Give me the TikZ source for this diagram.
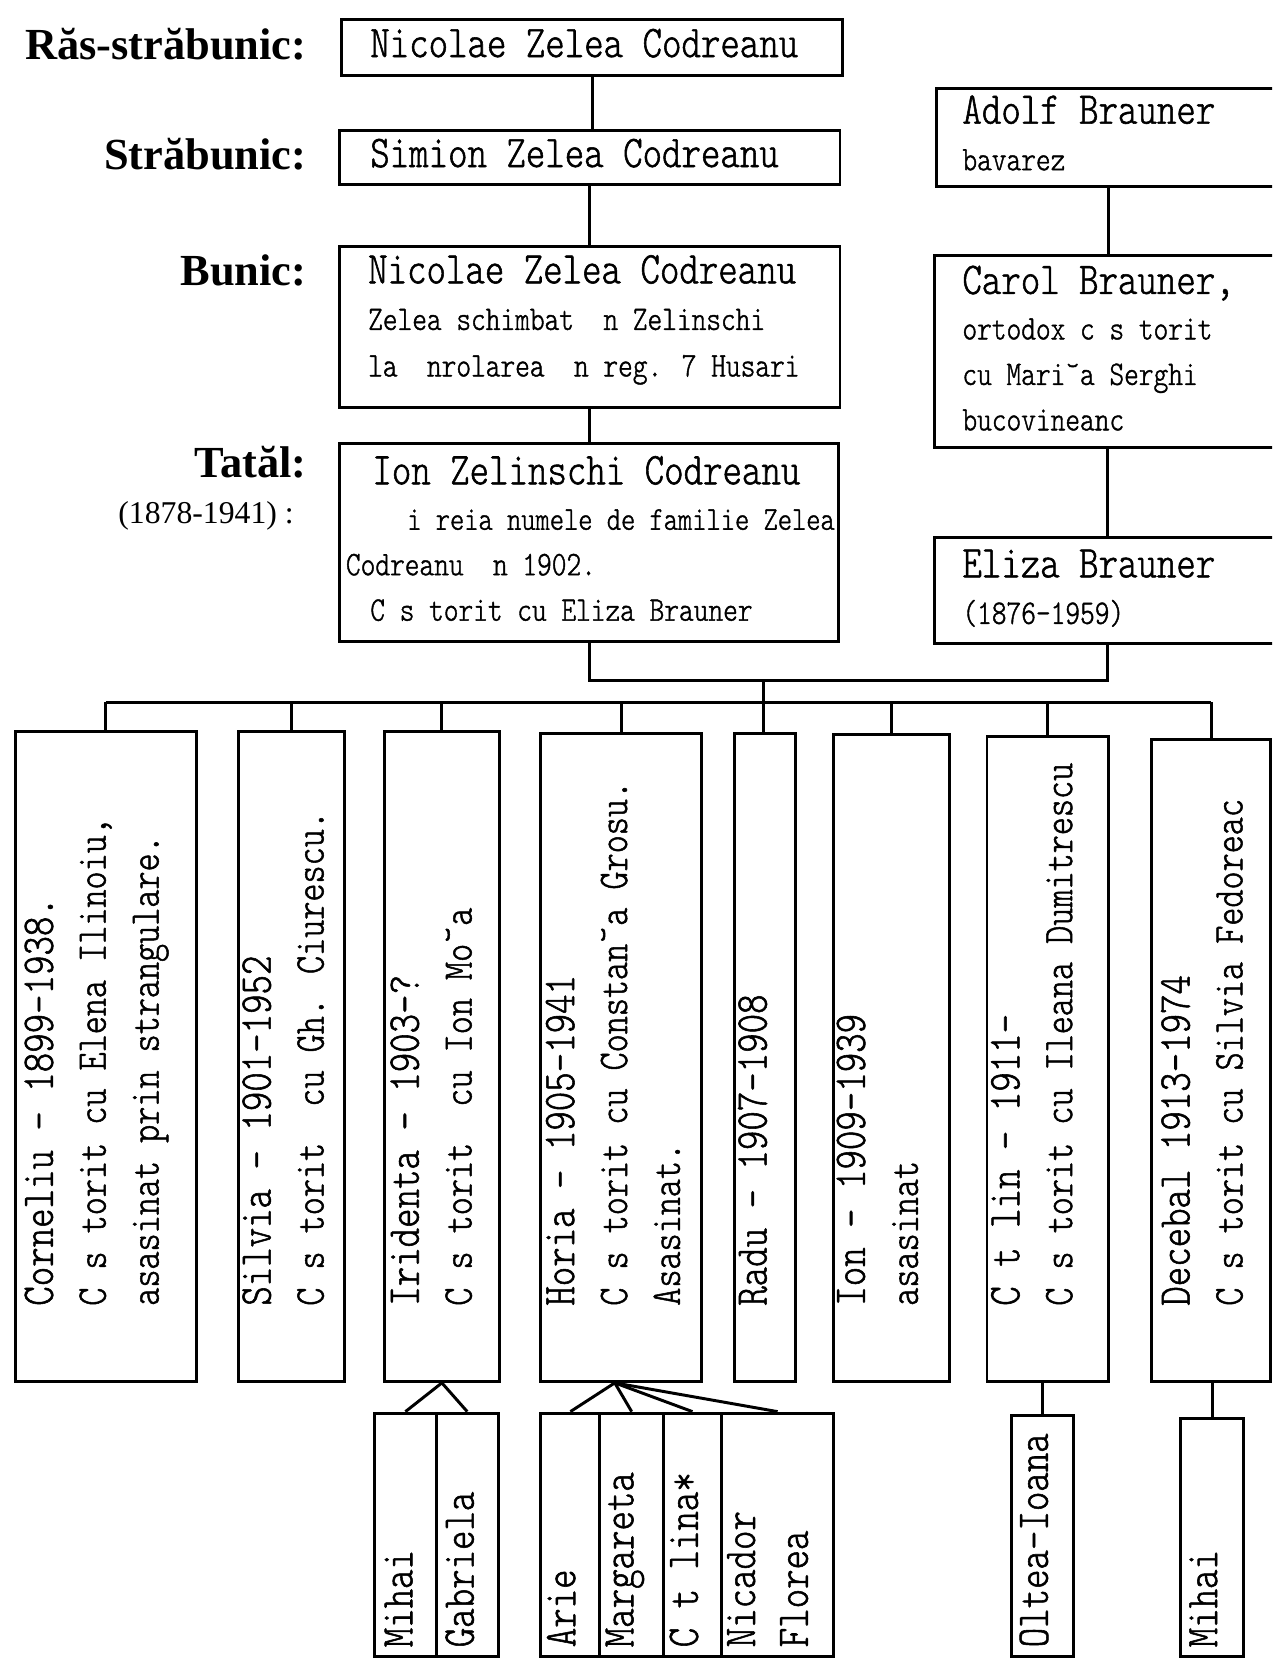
\documentclass[tikz,border=0pt]{standalone}
\usepackage{fontspec}
\setmainfont{Liberation Serif}
\newfontfamily\boxf{lmmonolt10-regular.otf}[FakeStretch=0.815,FakeBold=1.2]
\newcommand\bigf{\fontsize{43}{50}\selectfont}
\newcommand\midf{\fontsize{40}{50}\selectfont}
\newcommand\smf{\fontsize{32.5}{44}\selectfont}

\begin{document}
\begin{tikzpicture}[x=1pt,y=-1pt,
    box/.style={draw,line width=2.8pt,anchor=north west,inner sep=0pt},
    link/.style={line width=2.8pt},
    lbl/.style={font=\bfseries\fontsize{42}{50}\selectfont,anchor=base east,inner sep=0pt},
    txt/.style={font=\boxf\smf,align=left,anchor=base west,inner sep=0pt},
    vtxt/.style={font=\boxf\midf,align=left,anchor=base west,inner sep=0pt,rotate=90}]
  \useasboundingbox (0,0) rectangle (1203,1568);
  \fill[white] (0,0) rectangle (1203,1568);
  \clip (0,0) rectangle (1203,1568);
  % generations on the left
  \node[lbl] (l-rasstr) at (290,56) {Răs-străbunic:};
  \node[lbl] (l-strab) at (290,160) {Străbunic:};
  \node[lbl] (l-bunic) at (290,270) {Bunic:};
  \node[lbl] (l-tata) at (290,452) {Tatăl:};
  \node[lbl,font=\fontsize{30}{36}\selectfont] (l-ani) at (278,495) {(1878-1941) :};
  % Codreanu line (text nodes sit on their last baseline)
  \node[box,minimum width=473,minimum height=53] (rasstr) at (322,17) {};
  \node[box,minimum width=473,minimum height=51] (simion) at (320,122) {};
  \node[box,minimum width=473,minimum height=152] (bunic) at (320,232) {};
  \node[box,minimum width=472,minimum height=187] (ion) at (320,418) {};
  \node[txt] (t-rasstr) at (350,54) {{\bigf Nicolae Zelea Codreanu}};
  \node[txt] (t-simion) at (350,158) {{\bigf Simion Zelea Codreanu}};
  \node[txt] (t-bunic) at (348,356) {{\bigf Nicolae Zelea Codreanu}\\Zelea schimbat~~n Zelinschi\\la~~nrolarea~~n reg. 7 Husari};
  \node[txt,font=\boxf\fontsize{32.5}{43}\selectfont] (t-ion) at (327,587) {\hspace{25pt}{\bigf Ion Zelinschi Codreanu}\\\hspace{58pt}{\fontsize{31.5}{43}\selectfont i reia numele de familie Zelea}\\Codreanu~~n 1902.\\\hspace{23pt}C s torit cu Eliza Brauner};
  % Brauner line
  \node[box,minimum width=326,minimum height=93] (adolf) at (884,82) {};
  \node[box,minimum width=328,minimum height=182] (carol) at (882,240) {};
  \node[box,minimum width=328,minimum height=100] (eliza) at (882,507) {};
  \node[txt] (t-adolf) at (910,161) {{\bigf Adolf Brauner}\\bavarez};
  \node[txt,font=\boxf\fontsize{32.5}{43}\selectfont] (t-carol) at (910,407) {{\bigf Carol Brauner,}\\ortodox c s torit\\cu Mari˘a Serghi\\bucovineanc};
  \node[txt] (t-eliza) at (910,590) {{\bigf Eliza Brauner}\\(1876-1959)};
  % children
  \node[box,minimum width=171,minimum height=615] (corneliu) at (13,690) {};
  \node[box,minimum width=100,minimum height=615] (silvia) at (224,690) {};
  \node[box,minimum width=109,minimum height=615] (iridenta) at (362,690) {};
  \node[box,minimum width=152,minimum height=613] (horia) at (510,692) {};
  \node[box,minimum width=58,minimum height=613] (radu) at (693,692) {};
  \node[box,minimum width=110,minimum height=612] (ioncopil) at (787,693) {};
  \node[box,minimum width=115,minimum height=610] (catalin) at (932,695) {};
  \node[box,minimum width=112,minimum height=607] (decebal) at (1088,698) {};
  \node[vtxt] (t-corneliu) at (150,1235) {{\bigf Corneliu - 1899-1938.}\\C s torit cu Elena Ilinoiu,\\asasinat prin strangulare.};
  \node[vtxt] (t-silvia) at (306,1235) {{\bigf Silvia - 1901-1952}\\C s torit~~cu Gh. Ciurescu.};
  \node[vtxt] (t-iridenta) at (446,1235) {{\bigf Iridenta - 1903-?}\\C s torit~~cu Ion Mo˘a};
  \node[vtxt] (t-horia) at (643,1235) {{\bigf Horia - 1905-1941}\\C s torit cu Constan˘a Grosu.\\Asasinat.};
  \node[vtxt] (t-radu) at (725,1235) {{\bigf Radu - 1907-1908}};
  \node[vtxt] (t-ioncopil) at (868,1235) {{\bigf Ion - 1909-1939}\\asasinat};
  \node[vtxt] (t-catalin) at (1014,1235) {{\bigf C t lin - 1911-}\\C s torit cu Ileana Dumitrescu};
  \node[vtxt] (t-decebal) at (1175,1235) {{\bigf Decebal 1913-1974}\\C s torit cu Silvia Fedoreac};
  % grandchildren
  \node[box,minimum width=58,minimum height=230] (mihaia) at (353,1335) {};
  \node[box,minimum width=59,minimum height=230] (gabriela) at (411,1335) {};
  \node[box,minimum width=56,minimum height=230] (arie) at (510,1335) {};
  \node[box,minimum width=60,minimum height=230] (margareta) at (566,1335) {};
  \node[box,minimum width=55,minimum height=230] (catalina) at (626,1335) {};
  \node[box,minimum width=106,minimum height=230] (nicador) at (681,1335) {};
  \node[box,minimum width=59,minimum height=228] (oltea) at (955,1337) {};
  \node[box,minimum width=60,minimum height=225] (mihaib) at (1115,1340) {};
  \node[vtxt,font=\boxf\bigf] (t-mihaia) at (390,1558) {Mihai};
  \node[vtxt,font=\boxf\bigf] (t-gabriela) at (448,1558) {Gabriela};
  \node[vtxt,font=\boxf\bigf] (t-arie) at (544,1558) {Arie};
  \node[vtxt,font=\boxf\bigf] (t-margareta) at (599,1558) {Margareta};
  \node[vtxt,font=\boxf\bigf] (t-catalina) at (660,1558) {C t lina*};
  \node[vtxt,font=\boxf\bigf] (t-nicador) at (764,1558) {Nicador\\Florea};
  \node[vtxt,font=\boxf\bigf] (t-oltea) at (991,1558) {Oltea-Ioana};
  \node[vtxt,font=\boxf\bigf] (t-mihaib) at (1151,1558) {Mihai};
  % links
  \draw[link] (rasstr.south) -- (rasstr.south |- simion.north);
  \draw[link] (simion.south) -- (simion.south |- bunic.north);
  \draw[link] (bunic.south) -- (bunic.south |- ion.north);
  \draw[link] (adolf.south) -- (adolf.south |- carol.north);
  \draw[link] (carol.south) -- (carol.south |- eliza.north);
  \coordinate (fam) at (722,644);
  \coordinate (bar) at (0,664);
  \draw[link] (ion.south) |- (fam) -| (eliza.south);
  \draw[link] (fam) -- (fam |- radu.north);
  \draw[link] (corneliu.north |- bar) -- (decebal.north |- bar);
  \foreach \c in {corneliu,silvia,iridenta,horia,ioncopil,catalin,decebal}
    \draw[link] (\c.north) -- (\c.north |- bar);
  \foreach \g in {mihaia,gabriela}
    \draw[link] (iridenta.south) -- (\g.north);
  \foreach \g in {arie,margareta,catalina,nicador}
    \draw[link] ([xshift=-6pt]horia.south) -- (\g.north);
  \draw[link] (oltea.north) -- (oltea.north |- catalin.south);
  \draw[link] (mihaib.north) -- (mihaib.north |- decebal.south);
\end{tikzpicture}
\end{document}
